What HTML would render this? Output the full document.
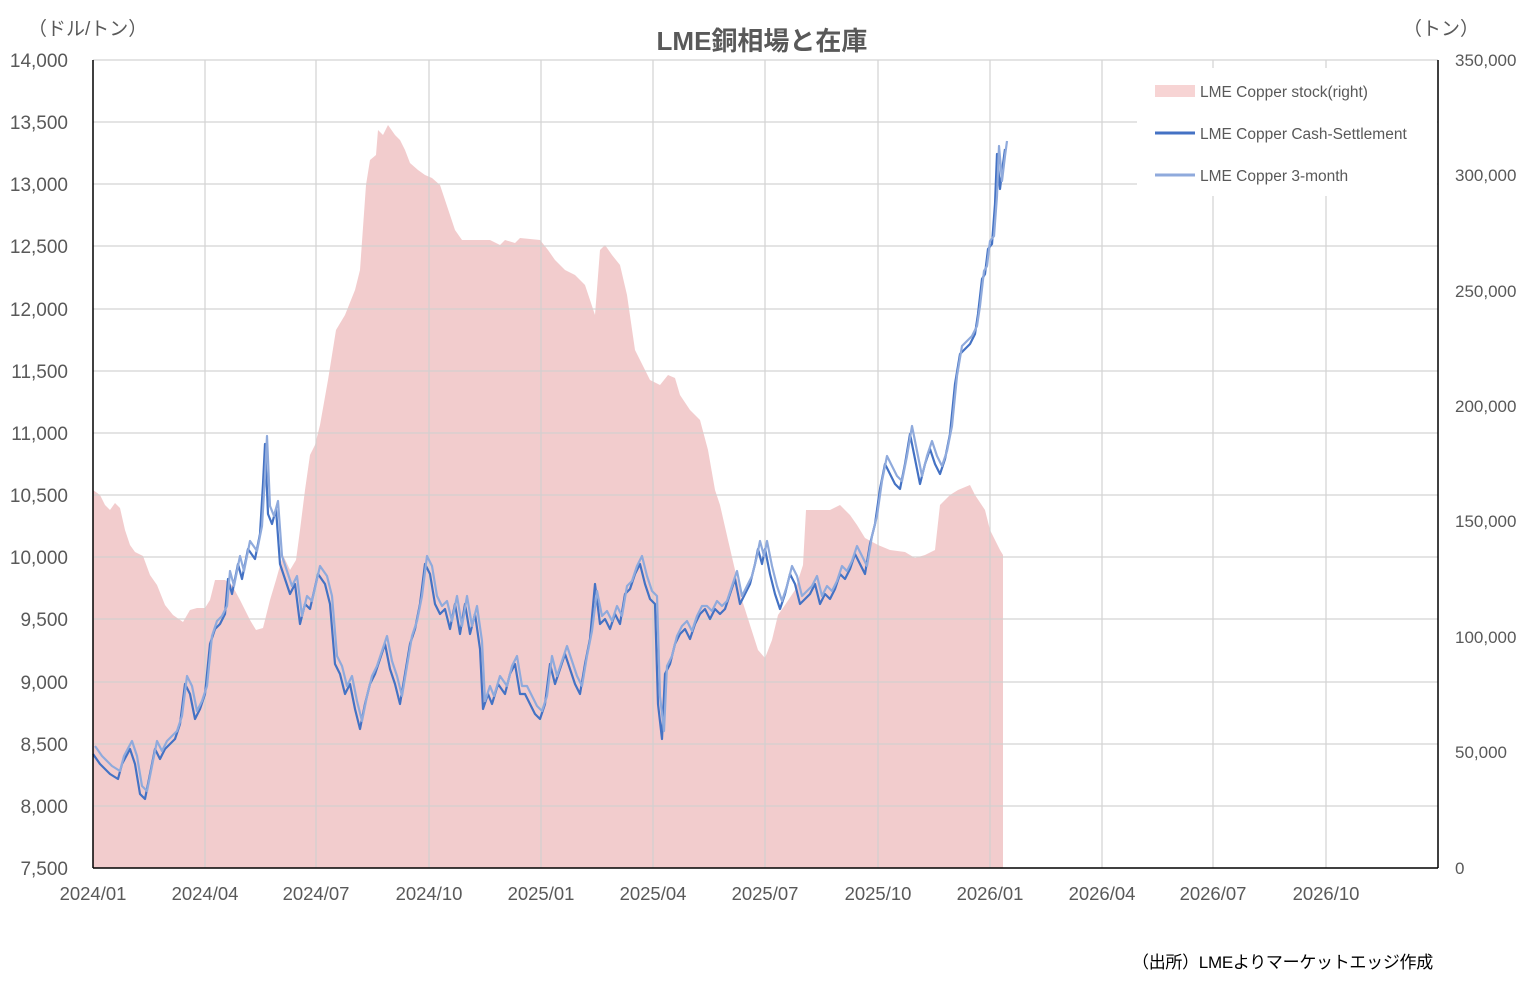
<!DOCTYPE html>
<html><head><meta charset="utf-8"><style>
body{margin:0;background:#fff;}
svg text{font-family:"Liberation Sans","Noto Sans CJK JP",sans-serif;fill:#595959;}
</style></head><body>
<svg width="1525" height="996" viewBox="0 0 1525 996" xmlns="http://www.w3.org/2000/svg">
<rect width="1525" height="996" fill="#fff"/>
<polygon fill="#f2cccd" points="93,490 100,495 105,505 110,510 115,503 120,508 125,530 130,545 135,552 143,556 150,575 157,585 165,605 173,615 183,622 190,610 197,608 205,608 210,600 215,580 225,580 232,585 240,600 250,620 256,630 263,628 270,600 276,580 283,555 290,570 296,560 300,530 305,490 310,455 315,445 320,425 328,380 336,330 345,315 355,290 360,270 366,185 370,160 376,155 378,130 383,135 388,125 395,135 400,140 405,150 410,163 418,170 425,175 432,178 440,185 445,200 455,230 462,240 470,240 490,240 500,245 505,240 515,243 520,238 540,240 548,250 555,260 565,270 575,275 585,285 590,300 595,315 600,250 605,245 612,255 620,265 627,295 635,350 645,370 650,380 660,385 668,375 675,378 680,395 690,410 700,420 708,450 715,490 720,505 728,540 735,570 742,600 750,625 758,650 765,658 772,640 778,615 785,605 795,590 803,565 806,510 815,510 830,510 840,505 850,515 857,525 865,538 878,545 890,550 905,552 915,558 925,555 935,550 940,505 950,495 958,490 970,485 975,495 985,510 990,530 995,540 1000,550 1003,555 1003,868 93,868"/>
<g stroke="#d0d0d0" stroke-width="1.3" opacity="0.9">
<line x1="93" y1="60" x2="1438" y2="60"/><line x1="93" y1="122" x2="1438" y2="122"/><line x1="93" y1="184" x2="1438" y2="184"/><line x1="93" y1="246" x2="1438" y2="246"/><line x1="93" y1="309" x2="1438" y2="309"/><line x1="93" y1="371" x2="1438" y2="371"/><line x1="93" y1="433" x2="1438" y2="433"/><line x1="93" y1="495" x2="1438" y2="495"/><line x1="93" y1="557" x2="1438" y2="557"/><line x1="93" y1="619" x2="1438" y2="619"/><line x1="93" y1="682" x2="1438" y2="682"/><line x1="93" y1="744" x2="1438" y2="744"/><line x1="93" y1="806" x2="1438" y2="806"/>
<line x1="205" y1="60" x2="205" y2="868"/><line x1="316" y1="60" x2="316" y2="868"/><line x1="429" y1="60" x2="429" y2="868"/><line x1="541" y1="60" x2="541" y2="868"/><line x1="653" y1="60" x2="653" y2="868"/><line x1="765" y1="60" x2="765" y2="868"/><line x1="878" y1="60" x2="878" y2="868"/><line x1="990" y1="60" x2="990" y2="868"/><line x1="1102" y1="60" x2="1102" y2="868"/><line x1="1213" y1="60" x2="1213" y2="868"/><line x1="1326" y1="60" x2="1326" y2="868"/>
</g>
<rect x="1137" y="68" width="300" height="128" fill="#fff"/>
<polyline fill="none" stroke="#4472c4" stroke-width="2.2" stroke-linejoin="round" transform="translate(0,4)" points="93,750 100,760 110,770 118,775 122,760 130,745 135,760 140,790 145,795 150,770 155,745 160,755 165,745 175,735 180,720 185,680 190,690 195,715 200,705 205,690 210,640 215,625 220,620 225,610 228,575 232,590 238,560 242,575 248,545 255,555 260,530 263,480 265,440 268,510 272,520 276,505 280,560 285,575 290,590 295,580 300,620 305,600 310,605 318,570 325,580 330,600 335,660 340,670 345,690 350,680 355,705 360,725 365,700 370,680 375,670 380,655 385,640 390,665 395,680 400,700 405,670 410,640 415,625 420,600 425,560 430,570 435,600 440,610 445,605 450,625 455,600 460,630 465,600 470,630 475,610 480,645 483,705 488,690 492,700 498,680 505,690 510,670 515,660 520,690 525,690 530,700 535,710 540,715 545,700 550,660 555,680 560,665 565,650 570,665 575,680 580,690 585,660 590,635 595,580 600,620 605,615 610,625 615,610 620,620 625,590 630,585 635,570 640,560 645,580 650,595 655,600 658,700 662,735 665,670 670,660 675,640 680,630 685,625 690,635 695,620 700,610 705,605 710,615 715,605 720,610 725,605 730,590 735,575 740,600 745,590 750,580 755,560 758,545 762,560 765,545 770,570 775,590 780,605 785,590 790,570 795,580 800,600 805,595 810,590 815,580 820,600 825,590 830,595 835,585 840,570 845,575 850,565 855,550 860,560 865,570 870,540 875,520 880,485 885,460 890,470 895,480 900,485 905,460 910,430 915,455 920,480 925,460 930,445 935,460 940,470 945,455 950,430 955,380 960,350 965,345 970,340 975,330 978,310 982,275 985,270 988,245 992,240 995,200 997,150 1000,185 1003,160 1005,145"/>
<polyline fill="none" stroke="#8faadc" stroke-width="2.2" stroke-linejoin="round" transform="translate(2,-4)" points="93,750 100,760 110,770 118,775 122,760 130,745 135,760 140,790 145,795 150,770 155,745 160,755 165,745 175,735 180,720 185,680 190,690 195,715 200,705 205,690 210,640 215,625 220,620 225,610 228,575 232,590 238,560 242,575 248,545 255,555 260,530 263,480 265,440 268,510 272,520 276,505 280,560 285,575 290,590 295,580 300,620 305,600 310,605 318,570 325,580 330,600 335,660 340,670 345,690 350,680 355,705 360,725 365,700 370,680 375,670 380,655 385,640 390,665 395,680 400,700 405,670 410,640 415,625 420,600 425,560 430,570 435,600 440,610 445,605 450,625 455,600 460,630 465,600 470,630 475,610 480,645 483,705 488,690 492,700 498,680 505,690 510,670 515,660 520,690 525,690 530,700 535,710 540,715 545,700 550,660 555,680 560,665 565,650 570,665 575,680 580,690 585,660 590,635 595,595 600,620 605,615 610,625 615,610 620,620 625,590 630,585 635,570 640,560 645,580 650,595 655,600 658,700 662,735 665,670 670,660 675,640 680,630 685,625 690,635 695,620 700,610 705,610 710,615 715,605 720,610 725,605 730,590 735,575 740,600 745,590 750,580 755,560 758,545 762,560 765,545 770,570 775,590 780,605 785,590 790,570 795,580 800,600 805,595 810,590 815,580 820,600 825,590 830,595 835,585 840,570 845,575 850,565 855,550 860,560 865,570 870,540 875,520 880,485 885,460 890,470 895,480 900,485 905,460 910,430 915,455 920,480 925,460 930,445 935,460 940,470 945,455 950,430 955,380 960,350 965,345 970,340 975,330 978,310 982,275 985,270 988,245 992,240 995,200 997,150 1000,185 1003,160 1005,145"/>
<line x1="93" y1="60" x2="93" y2="868" stroke="#000" stroke-width="1.5"/>
<line x1="1438" y1="60" x2="1438" y2="868" stroke="#000" stroke-width="1.5"/>
<line x1="93" y1="868" x2="1438" y2="868" stroke="#000" stroke-width="1.5"/>
<text x="762" y="50" font-size="26" font-weight="bold" text-anchor="middle">LME銅相場と在庫</text>
<text x="28" y="35" font-size="19">（ドル/トン）</text>
<text x="1403" y="35" font-size="19">（トン）</text>
<g font-size="19" text-anchor="end">
<text x="68" y="67">14,000</text><text x="68" y="129">13,500</text><text x="68" y="191">13,000</text><text x="68" y="253">12,500</text><text x="68" y="316">12,000</text><text x="68" y="378">11,500</text><text x="68" y="440">11,000</text><text x="68" y="502">10,500</text><text x="68" y="564">10,000</text><text x="68" y="626">9,500</text><text x="68" y="689">9,000</text><text x="68" y="751">8,500</text><text x="68" y="813">8,000</text><text x="68" y="875">7,500</text>
</g>
<g font-size="17">
<text x="1455" y="66">350,000</text><text x="1455" y="181">300,000</text><text x="1455" y="297">250,000</text><text x="1455" y="412">200,000</text><text x="1455" y="527">150,000</text><text x="1455" y="643">100,000</text><text x="1455" y="758">50,000</text><text x="1455" y="874">0</text>
</g>
<g font-size="18.5" text-anchor="middle">
<text x="93" y="900">2024/01</text><text x="205" y="900">2024/04</text><text x="316" y="900">2024/07</text><text x="429" y="900">2024/10</text><text x="541" y="900">2025/01</text><text x="653" y="900">2025/04</text><text x="765" y="900">2025/07</text><text x="878" y="900">2025/10</text><text x="990" y="900">2026/01</text><text x="1102" y="900">2026/04</text><text x="1213" y="900">2026/07</text><text x="1326" y="900">2026/10</text>
</g>
<rect x="1155" y="85" width="40" height="12" fill="#f7d4d4"/>
<line x1="1155" y1="133" x2="1195" y2="133" stroke="#4472c4" stroke-width="3"/>
<line x1="1155" y1="175" x2="1195" y2="175" stroke="#8faadc" stroke-width="3"/>
<g font-size="15.5">
<text x="1200" y="97">LME Copper stock(right)</text>
<text x="1200" y="139">LME Copper Cash-Settlement</text>
<text x="1200" y="181">LME Copper 3-month</text>
</g>
<text x="1132" y="968" font-size="17" style="fill:#000" letter-spacing="-0.3">（出所）LMEよりマーケットエッジ作成</text>
</svg>
</body></html>
